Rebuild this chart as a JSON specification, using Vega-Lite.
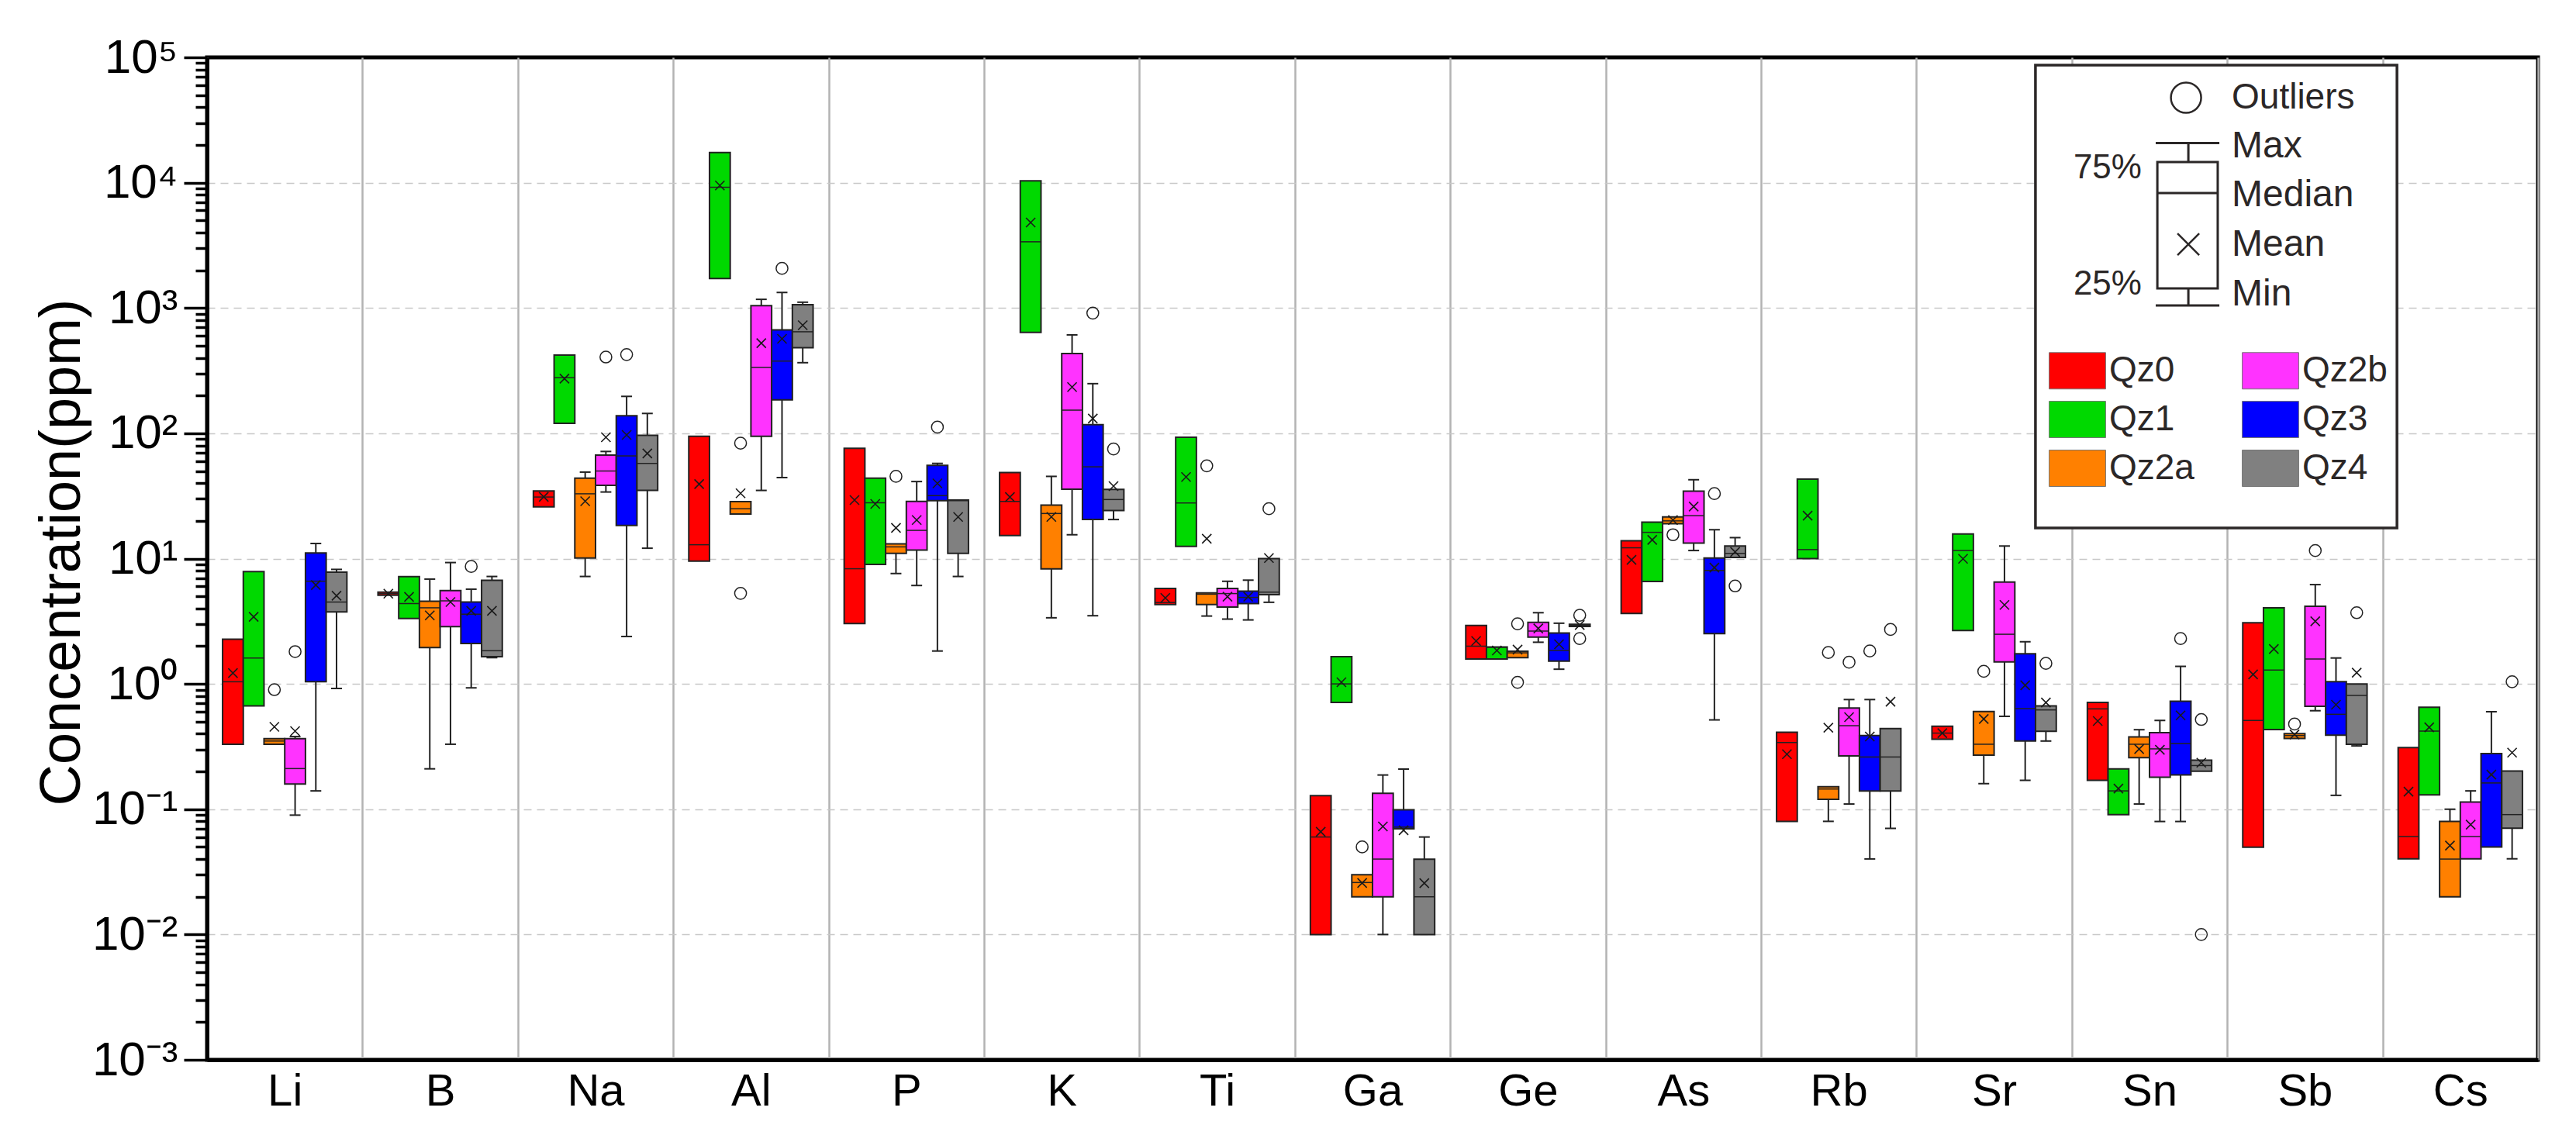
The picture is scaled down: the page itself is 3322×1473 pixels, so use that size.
{
  "$schema": "https://vega.github.io/schema/vega-lite/v6.json",
  "width": 3006,
  "height": 1293,
  "autosize": {"type": "none"},
  "padding": {"left": 267, "top": 74, "right": 49, "bottom": 106},
  "background": "white",
  "config": {
    "font": "Liberation Sans",
    "view": {"stroke": "black", "strokeWidth": 5}
  },
  "datasets": {
    "boxes": [
      {"el":"Li","g":"Qz0","lo":null,"q1":0.33,"med":1.04,"q3":2.27,"hi":null,"mean":1.22},
      {"el":"Li","g":"Qz1","lo":null,"q1":0.667,"med":1.61,"q3":7.87,"hi":null,"mean":3.43},
      {"el":"Li","g":"Qz2a","lo":null,"q1":0.33,"med":0.35,"q3":0.365,"hi":null,"mean":0.454},
      {"el":"Li","g":"Qz2b","lo":0.0897,"q1":0.159,"med":0.211,"q3":0.365,"hi":0.38,"mean":0.42},
      {"el":"Li","g":"Qz3","lo":0.14,"q1":1.04,"med":6.6,"q3":11.1,"hi":13.2,"mean":6.15},
      {"el":"Li","g":"Qz4","lo":0.92,"q1":3.76,"med":4.5,"q3":7.8,"hi":8.2,"mean":5.06},
      {"el":"B","g":"Qz0","lo":null,"q1":5.1,"med":5.25,"q3":5.4,"hi":null,"mean":5.25},
      {"el":"B","g":"Qz1","lo":null,"q1":3.33,"med":4.38,"q3":7.17,"hi":null,"mean":4.95},
      {"el":"B","g":"Qz2a","lo":0.21,"q1":1.95,"med":4.05,"q3":4.57,"hi":6.86,"mean":3.52},
      {"el":"B","g":"Qz2b","lo":0.33,"q1":2.86,"med":4.6,"q3":5.56,"hi":9.3,"mean":4.5},
      {"el":"B","g":"Qz3","lo":0.93,"q1":2.1,"med":3.6,"q3":4.5,"hi":5.7,"mean":3.83},
      {"el":"B","g":"Qz4","lo":1.62,"q1":1.65,"med":1.84,"q3":6.7,"hi":7.2,"mean":3.83},
      {"el":"Na","g":"Qz0","lo":null,"q1":25.9,"med":31,"q3":34.7,"hi":null,"mean":31.1},
      {"el":"Na","g":"Qz1","lo":null,"q1":120,"med":278,"q3":421,"hi":null,"mean":273},
      {"el":"Na","g":"Qz2a","lo":7.2,"q1":10.1,"med":32.9,"q3":43.9,"hi":49,"mean":28.7},
      {"el":"Na","g":"Qz2b","lo":34,"q1":38.4,"med":50,"q3":67,"hi":71.6,"mean":93},
      {"el":"Na","g":"Qz3","lo":2.39,"q1":18.4,"med":66,"q3":138,"hi":197,"mean":97},
      {"el":"Na","g":"Qz4","lo":12.1,"q1":35,"med":57.5,"q3":96.5,"hi":144,"mean":69},
      {"el":"Al","g":"Qz0","lo":null,"q1":9.55,"med":12.9,"q3":94.7,"hi":null,"mean":39.3},
      {"el":"Al","g":"Qz1","lo":null,"q1":1720,"med":9190,"q3":17400,"hi":null,"mean":9490},
      {"el":"Al","g":"Qz2a","lo":null,"q1":22.7,"med":25,"q3":28.5,"hi":null,"mean":33.2},
      {"el":"Al","g":"Qz2b","lo":35,"q1":94.7,"med":336,"q3":1042,"hi":1172,"mean":524},
      {"el":"Al","g":"Qz3","lo":44.3,"q1":185,"med":377,"q3":668,"hi":1330,"mean":568},
      {"el":"Al","g":"Qz4","lo":366,"q1":481,"med":646,"q3":1061,"hi":1112,"mean":728},
      {"el":"P","g":"Qz0","lo":null,"q1":3.03,"med":8.3,"q3":76,"hi":null,"mean":29.3},
      {"el":"P","g":"Qz1","lo":null,"q1":9.0,"med":27.9,"q3":43.8,"hi":null,"mean":27.3},
      {"el":"P","g":"Qz2a","lo":7.6,"q1":11.0,"med":12.4,"q3":13.1,"hi":null,"mean":17.6},
      {"el":"P","g":"Qz2b","lo":6.1,"q1":11.7,"med":16.8,"q3":28.6,"hi":41.2,"mean":20.3},
      {"el":"P","g":"Qz3","lo":1.83,"q1":29,"med":31.8,"q3":55.4,"hi":57.5,"mean":39.8},
      {"el":"P","g":"Qz4","lo":7.2,"q1":11.0,"med":29,"q3":29.3,"hi":null,"mean":21.5},
      {"el":"K","g":"Qz0","lo":null,"q1":15.3,"med":28.6,"q3":48.6,"hi":null,"mean":31},
      {"el":"K","g":"Qz1","lo":null,"q1":638,"med":3375,"q3":10350,"hi":null,"mean":4810},
      {"el":"K","g":"Qz2a","lo":3.37,"q1":8.28,"med":22.9,"q3":26.7,"hi":45.3,"mean":21.5},
      {"el":"K","g":"Qz2b","lo":15.5,"q1":35.8,"med":153,"q3":433,"hi":610,"mean":234},
      {"el":"K","g":"Qz3","lo":3.5,"q1":20.5,"med":54,"q3":117,"hi":249,"mean":131},
      {"el":"K","g":"Qz4","lo":20.5,"q1":24.2,"med":29.6,"q3":35.6,"hi":null,"mean":37.9},
      {"el":"Ti","g":"Qz0","lo":null,"q1":4.3,"med":4.46,"q3":5.78,"hi":null,"mean":4.85},
      {"el":"Ti","g":"Qz1","lo":null,"q1":12.5,"med":27.8,"q3":93,"hi":null,"mean":44.8},
      {"el":"Ti","g":"Qz2a","lo":3.48,"q1":4.3,"med":5.2,"q3":5.33,"hi":null,"mean":14.4},
      {"el":"Ti","g":"Qz2b","lo":3.29,"q1":4.11,"med":5.26,"q3":5.78,"hi":6.59,"mean":4.97},
      {"el":"Ti","g":"Qz3","lo":3.24,"q1":4.37,"med":4.9,"q3":5.5,"hi":6.73,"mean":4.97},
      {"el":"Ti","g":"Qz4","lo":4.48,"q1":5.16,"med":5.4,"q3":10.0,"hi":null,"mean":10.1},
      {"el":"Ga","g":"Qz0","lo":null,"q1":0.01,"med":0.06,"q3":0.1285,"hi":null,"mean":0.066},
      {"el":"Ga","g":"Qz1","lo":null,"q1":0.711,"med":1.0,"q3":1.65,"hi":null,"mean":1.03},
      {"el":"Ga","g":"Qz2a","lo":null,"q1":0.02,"med":0.026,"q3":0.03,"hi":null,"mean":0.0258},
      {"el":"Ga","g":"Qz2b","lo":0.01,"q1":0.02,"med":0.04,"q3":0.134,"hi":0.1875,"mean":0.0728},
      {"el":"Ga","g":"Qz3","lo":null,"q1":0.0698,"med":0.072,"q3":0.099,"hi":0.209,"mean":0.068},
      {"el":"Ga","g":"Qz4","lo":null,"q1":0.01,"med":0.02,"q3":0.0399,"hi":0.06,"mean":0.0257},
      {"el":"Ge","g":"Qz0","lo":null,"q1":1.58,"med":2.0,"q3":2.93,"hi":null,"mean":2.2},
      {"el":"Ge","g":"Qz1","lo":null,"q1":1.58,"med":1.96,"q3":1.97,"hi":null,"mean":1.85},
      {"el":"Ge","g":"Qz2a","lo":null,"q1":1.62,"med":1.77,"q3":1.82,"hi":null,"mean":1.88},
      {"el":"Ge","g":"Qz2b","lo":2.15,"q1":2.36,"med":2.64,"q3":3.1,"hi":3.7,"mean":2.77},
      {"el":"Ge","g":"Qz3","lo":1.31,"q1":1.52,"med":1.85,"q3":2.55,"hi":3.05,"mean":2.07},
      {"el":"Ge","g":"Qz4","lo":null,"q1":2.88,"med":2.94,"q3":2.99,"hi":null,"mean":2.95},
      {"el":"As","g":"Qz0","lo":null,"q1":3.65,"med":12.2,"q3":13.9,"hi":null,"mean":9.77},
      {"el":"As","g":"Qz1","lo":null,"q1":6.56,"med":16.2,"q3":19.5,"hi":null,"mean":14.1},
      {"el":"As","g":"Qz2a","lo":null,"q1":19,"med":20,"q3":21.5,"hi":null,"mean":20.3},
      {"el":"As","g":"Qz2b","lo":11.6,"q1":13.3,"med":22,"q3":34.5,"hi":42.6,"mean":26},
      {"el":"As","g":"Qz3","lo":0.516,"q1":2.52,"med":8.04,"q3":10.1,"hi":17,"mean":8.47},
      {"el":"As","g":"Qz4","lo":null,"q1":10.2,"med":11,"q3":12.6,"hi":14.7,"mean":11.3},
      {"el":"Rb","g":"Qz0","lo":null,"q1":0.0798,"med":0.341,"q3":0.411,"hi":null,"mean":0.275},
      {"el":"Rb","g":"Qz1","lo":null,"q1":10,"med":11.8,"q3":43,"hi":null,"mean":22},
      {"el":"Rb","g":"Qz2a","lo":0.08,"q1":0.12,"med":0.145,"q3":0.151,"hi":null,"mean":0.447},
      {"el":"Rb","g":"Qz2b","lo":0.11,"q1":0.266,"med":0.464,"q3":0.641,"hi":0.75,"mean":0.543},
      {"el":"Rb","g":"Qz3","lo":0.0401,"q1":0.14,"med":0.261,"q3":0.387,"hi":0.75,"mean":0.38},
      {"el":"Rb","g":"Qz4","lo":0.0703,"q1":0.14,"med":0.261,"q3":0.44,"hi":null,"mean":0.721},
      {"el":"Sr","g":"Qz0","lo":null,"q1":0.362,"med":0.405,"q3":0.459,"hi":null,"mean":0.405},
      {"el":"Sr","g":"Qz1","lo":null,"q1":2.67,"med":11.6,"q3":15.7,"hi":null,"mean":9.96},
      {"el":"Sr","g":"Qz2a","lo":0.16,"q1":0.27,"med":0.33,"q3":0.601,"hi":null,"mean":0.525},
      {"el":"Sr","g":"Qz2b","lo":0.551,"q1":1.5,"med":2.49,"q3":6.5,"hi":12.6,"mean":4.27},
      {"el":"Sr","g":"Qz3","lo":0.17,"q1":0.35,"med":0.635,"q3":1.74,"hi":2.17,"mean":0.976},
      {"el":"Sr","g":"Qz4","lo":0.35,"q1":0.419,"med":0.62,"q3":0.667,"hi":null,"mean":0.71},
      {"el":"Sn","g":"Qz0","lo":null,"q1":0.17,"med":0.632,"q3":0.711,"hi":null,"mean":0.506},
      {"el":"Sn","g":"Qz1","lo":null,"q1":0.0904,"med":0.14,"q3":0.21,"hi":null,"mean":0.146},
      {"el":"Sn","g":"Qz2a","lo":0.11,"q1":0.258,"med":0.33,"q3":0.377,"hi":0.431,"mean":0.302},
      {"el":"Sn","g":"Qz2b","lo":0.0798,"q1":0.18,"med":0.303,"q3":0.409,"hi":0.511,"mean":0.298},
      {"el":"Sn","g":"Qz3","lo":0.0798,"q1":0.188,"med":0.334,"q3":0.728,"hi":1.38,"mean":0.561},
      {"el":"Sn","g":"Qz4","lo":null,"q1":0.201,"med":0.223,"q3":0.246,"hi":null,"mean":0.235},
      {"el":"Sb","g":"Qz0","lo":null,"q1":0.0498,"med":0.511,"q3":3.08,"hi":null,"mean":1.19},
      {"el":"Sb","g":"Qz1","lo":null,"q1":0.433,"med":1.29,"q3":4.04,"hi":null,"mean":1.9},
      {"el":"Sb","g":"Qz2a","lo":null,"q1":0.367,"med":0.387,"q3":0.401,"hi":null,"mean":0.395},
      {"el":"Sb","g":"Qz2b","lo":0.611,"q1":0.662,"med":1.58,"q3":4.16,"hi":6.2,"mean":3.16},
      {"el":"Sb","g":"Qz3","lo":0.129,"q1":0.39,"med":0.572,"q3":1.04,"hi":1.61,"mean":0.682},
      {"el":"Sb","g":"Qz4","lo":0.32,"q1":0.33,"med":0.809,"q3":1.0,"hi":null,"mean":1.23},
      {"el":"Cs","g":"Qz0","lo":null,"q1":0.0402,"med":0.0605,"q3":0.31,"hi":null,"mean":0.138},
      {"el":"Cs","g":"Qz1","lo":null,"q1":0.13,"med":0.42,"q3":0.65,"hi":null,"mean":0.45},
      {"el":"Cs","g":"Qz2a","lo":null,"q1":0.02,"med":0.04,"q3":0.08,"hi":0.1,"mean":0.0513},
      {"el":"Cs","g":"Qz2b","lo":null,"q1":0.0402,"med":0.0605,"q3":0.114,"hi":0.14,"mean":0.0753},
      {"el":"Cs","g":"Qz3","lo":null,"q1":0.0499,"med":0.162,"q3":0.278,"hi":0.6,"mean":0.189},
      {"el":"Cs","g":"Qz4","lo":0.0402,"q1":0.0705,"med":0.0906,"q3":0.202,"hi":null,"mean":0.283}
    ],
    "outliers": [
      {"el":"Li","g":"Qz2a","v":0.9},{"el":"Li","g":"Qz2b","v":1.81},
      {"el":"B","g":"Qz3","v":8.65},
      {"el":"Na","g":"Qz2b","v":406},{"el":"Na","g":"Qz3","v":425},
      {"el":"Al","g":"Qz2a","v":83.4},{"el":"Al","g":"Qz2a","v":5.28},{"el":"Al","g":"Qz3","v":2070},
      {"el":"P","g":"Qz2a","v":45.3},{"el":"P","g":"Qz3","v":112},
      {"el":"K","g":"Qz3","v":910},{"el":"K","g":"Qz4","v":75},
      {"el":"Ti","g":"Qz2a","v":55},{"el":"Ti","g":"Qz4","v":25},
      {"el":"Ga","g":"Qz2a","v":0.05},
      {"el":"Ge","g":"Qz2a","v":3.02},{"el":"Ge","g":"Qz2a","v":1.03},{"el":"Ge","g":"Qz4","v":3.53},{"el":"Ge","g":"Qz4","v":2.3},
      {"el":"As","g":"Qz2a","v":15.5},{"el":"As","g":"Qz3","v":33},{"el":"As","g":"Qz4","v":6.05},
      {"el":"Rb","g":"Qz2a","v":1.78},{"el":"Rb","g":"Qz2b","v":1.49},{"el":"Rb","g":"Qz3","v":1.83},{"el":"Rb","g":"Qz4","v":2.72},
      {"el":"Sr","g":"Qz2a","v":1.26},{"el":"Sr","g":"Qz4","v":1.46},
      {"el":"Sn","g":"Qz3","v":2.3},{"el":"Sn","g":"Qz4","v":0.52},{"el":"Sn","g":"Qz4","v":0.01},
      {"el":"Sb","g":"Qz2a","v":0.478},{"el":"Sb","g":"Qz2b","v":11.6},{"el":"Sb","g":"Qz4","v":3.7},
      {"el":"Cs","g":"Qz4","v":1.04}
    ]
  },
  "resolve": {"scale": {"x": "independent", "y": "independent"}},
  "layer": [
    {
      "encoding": {
        "x": {
          "field": "el", "type": "nominal", "title": null,
          "scale": {"domain": ["Li","B","Na","Al","P","K","Ti","Ga","Ge","As","Rb","Sr","Sn","Sb","Cs"], "paddingInner": 0, "paddingOuter": 0},
          "axis": {
            "labelAngle": 0, "labelFontSize": 58, "labelColor": "black", "labelPadding": 12,
            "ticks": false, "domainColor": "black", "domainWidth": 5,
            "grid": true, "gridColor": "#b3b3b3", "gridWidth": 2.5, "tickBand": "extent"
          }
        },
        "xOffset": {
          "field": "g", "type": "nominal",
          "scale": {"domain": ["Qz0","Qz1","Qz2a","Qz2b","Qz3","Qz4"], "paddingInner": 0, "paddingOuter": 0.75}
        }
      },
      "layer": [
        {
          "data": {"name": "boxes"},
          "transform": [{"filter": "isValid(datum.hi)"}],
          "mark": {"type": "rule", "color": "#222222", "strokeWidth": 2, "opacity": 1},
          "encoding": {
            "y": {
              "field": "q3", "type": "quantitative", "title": "Concentration(ppm)",
              "scale": {"type": "log", "domain": [0.001, 100000], "nice": false},
              "axis": {
                "values": [0.001,0.002,0.003,0.004,0.005,0.006,0.007,0.008,0.009,0.01,0.02,0.03,0.04,0.05,0.06,0.07,0.08,0.09,0.1,0.2,0.3,0.4,0.5,0.6,0.7,0.8,0.9,1,2,3,4,5,6,7,8,9,10,20,30,40,50,60,70,80,90,100,200,300,400,500,600,700,800,900,1000,2000,3000,4000,5000,6000,7000,8000,9000,10000,20000,30000,40000,50000,60000,70000,80000,90000,100000],
                "labelExpr": "abs(log(datum.value)/LN10 - round(log(datum.value)/LN10)) < 0.001 ? '10' + ['⁻³','⁻²','⁻¹','⁰','¹','²','³','⁴','⁵'][round(log(datum.value)/LN10)+3] : ''",
                "labelOverlap": false, "labelFlush": false, "labelBound": false,
                "labelFontSize": 62, "labelColor": "black", "labelPadding": 8,
                "tickColor": "black", "tickWidth": 3.5,
                "tickSize": {"condition": {"test": "abs(log(datum.value)/LN10 - round(log(datum.value)/LN10)) < 0.001", "value": 30}, "value": 15},
                "domainColor": "black", "domainWidth": 5,
                "grid": true, "gridColor": "#c8c8c8", "gridWidth": 1.5, "gridDash": [10, 7],
                "gridOpacity": {"condition": {"test": "abs(log(datum.value)/LN10 - round(log(datum.value)/LN10)) < 0.001 && datum.value < 50000 && datum.value > 0.002", "value": 1}, "value": 0},
                "titleFontSize": 74, "titleFontWeight": "normal", "titleColor": "black",
                "titleX": -187, "titleY": 638, "titleAlign": "center", "titleBaseline": "middle", "titleAngle": 270
              }
            },
            "y2": {"field": "hi"}
          }
        },
        {
          "data": {"name": "boxes"},
          "transform": [{"filter": "isValid(datum.lo)"}],
          "mark": {"type": "rule", "color": "#222222", "strokeWidth": 2, "opacity": 1},
          "encoding": {
            "y": {"field": "lo", "type": "quantitative", "title": "Concentration(ppm)"},
            "y2": {"field": "q1"}
          }
        },
        {
          "data": {"name": "boxes"},
          "transform": [{"filter": "isValid(datum.hi)"}],
          "mark": {"type": "tick", "color": "#222222", "size": 14, "thickness": 2, "opacity": 1},
          "encoding": {"y": {"field": "hi", "type": "quantitative", "title": "Concentration(ppm)"}}
        },
        {
          "data": {"name": "boxes"},
          "transform": [{"filter": "isValid(datum.lo)"}],
          "mark": {"type": "tick", "color": "#222222", "size": 14, "thickness": 2, "opacity": 1},
          "encoding": {"y": {"field": "lo", "type": "quantitative", "title": "Concentration(ppm)"}}
        },
        {
          "data": {"name": "boxes"},
          "mark": {"type": "bar", "stroke": "#222222", "strokeWidth": 2, "opacity": 1},
          "encoding": {
            "y": {"field": "q1", "type": "quantitative", "title": "Concentration(ppm)"},
            "y2": {"field": "q3"},
            "color": {
              "field": "g", "type": "nominal",
              "scale": {"domain": ["Qz0","Qz1","Qz2a","Qz2b","Qz3","Qz4"], "range": ["#ff0000","#00d900","#ff8000","#ff33ff","#0000ff","#808080"]},
              "legend": {
                "title": null, "orient": "none", "legendX": 2388, "legendY": 380,
                "columns": 2, "padding": 0,
                "symbolType": "M-1.55,-1H1.55V1H-1.55Z", "symbolSize": 2209,
                "symbolStrokeColor": "#777777", "symbolStrokeWidth": 1, "symbolOpacity": 1,
                "labelFontSize": 46, "labelOffset": 17, "labelColor": "#2b2727",
                "columnPadding": 59, "rowPadding": 11
              }
            }
          }
        },
        {
          "data": {"name": "boxes"},
          "mark": {"type": "tick", "color": "#222222", "size": 26, "thickness": 1.5, "opacity": 1},
          "encoding": {"y": {"field": "med", "type": "quantitative", "title": "Concentration(ppm)"}}
        },
        {
          "data": {"name": "boxes"},
          "mark": {"type": "point", "shape": "M-1,-1L1,1M-1,1L1,-1", "size": 144, "filled": false, "stroke": "#1a1a1a", "strokeWidth": 1.6, "opacity": 1},
          "encoding": {"y": {"field": "mean", "type": "quantitative", "title": "Concentration(ppm)"}}
        },
        {
          "data": {"name": "outliers"},
          "mark": {"type": "point", "shape": "circle", "size": 230, "filled": false, "stroke": "#222222", "strokeWidth": 1.5, "opacity": 1},
          "encoding": {"y": {"field": "v", "type": "quantitative", "title": "Concentration(ppm)"}}
        }
      ]
    },
    {
      "layer": [
        {
          "data": {"values": [{}]},
          "mark": {"type": "rect", "fill": "white", "stroke": "#2b2727", "strokeWidth": 3.5},
          "encoding": {
            "x": {"datum": 0.7844, "type": "quantitative", "scale": {"domain": [0, 1], "nice": false, "zero": false}, "axis": null},
            "x2": {"datum": 0.9395},
            "y": {"datum": 0.0077, "type": "quantitative", "scale": {"domain": [0, 1], "nice": false, "zero": false, "reverse": true}, "axis": null},
            "y2": {"datum": 0.4695}
          }
        },
        {
          "data": {"values": [{}]},
          "mark": {"type": "point", "shape": "circle", "size": 1520, "filled": false, "stroke": "#2b2727", "strokeWidth": 2.5, "opacity": 1},
          "encoding": {"x": {"datum": 0.849, "type": "quantitative"}, "y": {"datum": 0.0402, "type": "quantitative"}}
        },
        {
          "data": {"values": [{}]},
          "mark": {"type": "rule", "color": "#2b2727", "strokeWidth": 3},
          "encoding": {"x": {"datum": 0.836, "type": "quantitative"}, "x2": {"datum": 0.8633}, "y": {"datum": 0.0855, "type": "quantitative"}}
        },
        {
          "data": {"values": [{}]},
          "mark": {"type": "rule", "color": "#2b2727", "strokeWidth": 3},
          "encoding": {"x": {"datum": 0.85, "type": "quantitative"}, "y": {"datum": 0.0855, "type": "quantitative"}, "y2": {"datum": 0.1044}}
        },
        {
          "data": {"values": [{}]},
          "mark": {"type": "rect", "fill": "white", "stroke": "#2b2727", "strokeWidth": 3},
          "encoding": {"x": {"datum": 0.8367, "type": "quantitative"}, "x2": {"datum": 0.8626}, "y": {"datum": 0.1044, "type": "quantitative"}, "y2": {"datum": 0.2305}}
        },
        {
          "data": {"values": [{}]},
          "mark": {"type": "rule", "color": "#2b2727", "strokeWidth": 3},
          "encoding": {"x": {"datum": 0.8367, "type": "quantitative"}, "x2": {"datum": 0.8626}, "y": {"datum": 0.1353, "type": "quantitative"}}
        },
        {
          "data": {"values": [{}]},
          "mark": {"type": "rule", "color": "#2b2727", "strokeWidth": 3},
          "encoding": {"x": {"datum": 0.85, "type": "quantitative"}, "y": {"datum": 0.2305, "type": "quantitative"}, "y2": {"datum": 0.2475}}
        },
        {
          "data": {"values": [{}]},
          "mark": {"type": "rule", "color": "#2b2727", "strokeWidth": 3},
          "encoding": {"x": {"datum": 0.836, "type": "quantitative"}, "x2": {"datum": 0.8633}, "y": {"datum": 0.2475, "type": "quantitative"}}
        },
        {
          "data": {"values": [{}]},
          "mark": {"type": "point", "shape": "M-1,-1L1,1M-1,1L1,-1", "size": 784, "filled": false, "stroke": "#2b2727", "strokeWidth": 2.5, "opacity": 1},
          "encoding": {"x": {"datum": 0.85, "type": "quantitative"}, "y": {"datum": 0.1864, "type": "quantitative"}}
        },
        {
          "data": {"values": [{}]},
          "mark": {"type": "text", "text": "Outliers", "align": "left", "baseline": "middle", "fontSize": 46, "color": "#2b2727"},
          "encoding": {"x": {"datum": 0.8686, "type": "quantitative"}, "y": {"datum": 0.0402, "type": "quantitative"}}
        },
        {
          "data": {"values": [{}]},
          "mark": {"type": "text", "text": "Max", "align": "left", "baseline": "middle", "fontSize": 48, "color": "#2b2727"},
          "encoding": {"x": {"datum": 0.8686, "type": "quantitative"}, "y": {"datum": 0.0889, "type": "quantitative"}}
        },
        {
          "data": {"values": [{}]},
          "mark": {"type": "text", "text": "Median", "align": "left", "baseline": "middle", "fontSize": 48, "color": "#2b2727"},
          "encoding": {"x": {"datum": 0.8686, "type": "quantitative"}, "y": {"datum": 0.1377, "type": "quantitative"}}
        },
        {
          "data": {"values": [{}]},
          "mark": {"type": "text", "text": "Mean", "align": "left", "baseline": "middle", "fontSize": 48, "color": "#2b2727"},
          "encoding": {"x": {"datum": 0.8686, "type": "quantitative"}, "y": {"datum": 0.1872, "type": "quantitative"}}
        },
        {
          "data": {"values": [{}]},
          "mark": {"type": "text", "text": "Min", "align": "left", "baseline": "middle", "fontSize": 48, "color": "#2b2727"},
          "encoding": {"x": {"datum": 0.8686, "type": "quantitative"}, "y": {"datum": 0.2367, "type": "quantitative"}}
        },
        {
          "data": {"values": [{}]},
          "mark": {"type": "text", "text": "75%", "align": "right", "baseline": "middle", "fontSize": 44, "color": "#2b2727"},
          "encoding": {"x": {"datum": 0.83, "type": "quantitative"}, "y": {"datum": 0.1106, "type": "quantitative"}}
        },
        {
          "data": {"values": [{}]},
          "mark": {"type": "text", "text": "25%", "align": "right", "baseline": "middle", "fontSize": 44, "color": "#2b2727"},
          "encoding": {"x": {"datum": 0.83, "type": "quantitative"}, "y": {"datum": 0.2266, "type": "quantitative"}}
        }
      ]
    }
  ]
}
